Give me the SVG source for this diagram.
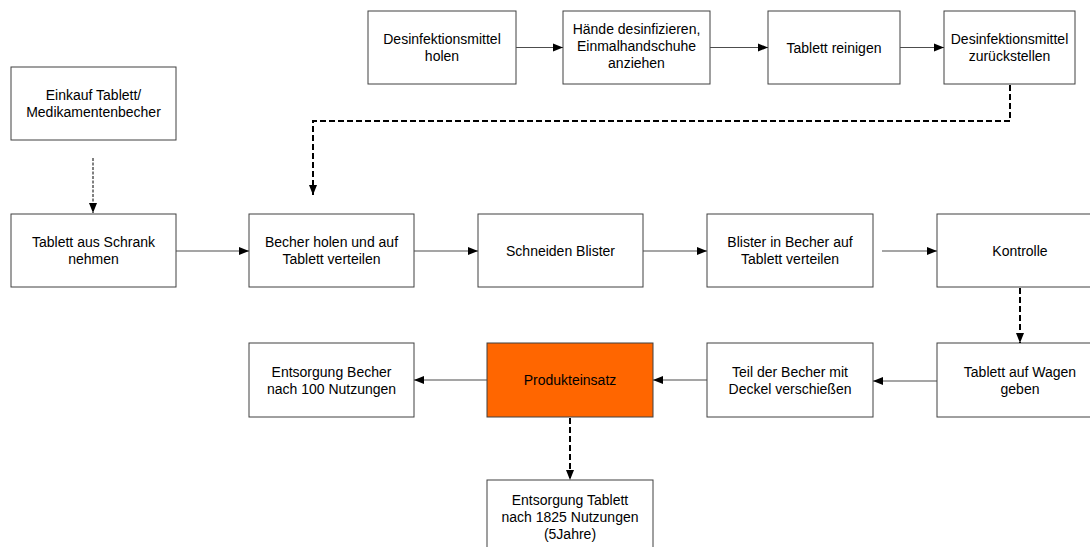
<svg xmlns="http://www.w3.org/2000/svg" width="1090" height="547" viewBox="0 0 1090 547">
<style>
.box{fill:#fff;stroke:#404040;stroke-width:1}
.hl{fill:#ff6600;stroke:#404040;stroke-width:1}
.t{font-family:"Liberation Sans",Arial,sans-serif;font-size:14px;fill:#000;text-anchor:middle}
.solid{fill:none;stroke:#4d4d4d;stroke-width:1.2}
.dash{fill:none;stroke:#000;stroke-width:2;stroke-dasharray:6 3}
.dot{fill:none;stroke:#000;stroke-width:1;stroke-dasharray:3 1.5}
</style>
<defs>
<marker id="ah" markerUnits="userSpaceOnUse" markerWidth="10" markerHeight="10" viewBox="0 0 10 10" refX="10" refY="5" orient="auto">
<path d="M0,1 L10,5 L0,9 Z" fill="#000"/>
</marker>
</defs>
<rect width="1090" height="547" fill="#fff"/>
<g id="n1"><rect class="box" x="368" y="11" width="148" height="73"/><text class="t" x="442" y="44">Desinfektionsmittel</text><text class="t" x="442" y="61">holen</text></g>
<g id="n2"><rect class="box" x="563" y="11" width="147" height="73"/><text class="t" x="636.5" y="34">Hände desinfizieren,</text><text class="t" x="636.5" y="51">Einmalhandschuhe</text><text class="t" x="636.5" y="68">anziehen</text></g>
<g id="n3"><rect class="box" x="768" y="11" width="132" height="73"/><text class="t" x="834" y="52.5">Tablett reinigen</text></g>
<g id="n4"><rect class="box" x="944" y="11" width="131" height="73"/><text class="t" x="1009.5" y="44">Desinfektionsmittel</text><text class="t" x="1009.5" y="61">zurückstellen</text></g>
<g id="n5"><rect class="box" x="11" y="67" width="165" height="73"/><text class="t" x="93.5" y="100">Einkauf Tablett/</text><text class="t" x="93.5" y="117">Medikamentenbecher</text></g>
<g id="n6"><rect class="box" x="11" y="214" width="165" height="73"/><text class="t" x="93.5" y="247">Tablett aus Schrank</text><text class="t" x="93.5" y="264">nehmen</text></g>
<g id="n7"><rect class="box" x="249" y="214" width="165" height="73"/><text class="t" x="331.5" y="247">Becher holen und auf</text><text class="t" x="331.5" y="264">Tablett verteilen</text></g>
<g id="n8"><rect class="box" x="478" y="214" width="165" height="73"/><text class="t" x="560.5" y="255.5">Schneiden Blister</text></g>
<g id="n9"><rect class="box" x="707" y="214" width="166" height="73"/><text class="t" x="790" y="247">Blister in Becher auf</text><text class="t" x="790" y="264">Tablett verteilen</text></g>
<g id="n10"><rect class="box" x="937" y="214" width="166" height="73"/><text class="t" x="1020" y="255.5">Kontrolle</text></g>
<g id="n11"><rect class="box" x="937" y="343" width="166" height="74"/><text class="t" x="1020" y="376.5">Tablett auf Wagen</text><text class="t" x="1020" y="393.5">geben</text></g>
<g id="n12"><rect class="box" x="707" y="343" width="166" height="74"/><text class="t" x="790" y="376.5">Teil der Becher mit</text><text class="t" x="790" y="393.5">Deckel verschießen</text></g>
<g id="n13"><rect class="hl" x="487" y="343" width="166" height="74"/><text class="t" x="570" y="385">Produkteinsatz</text></g>
<g id="n14"><rect class="box" x="249" y="343" width="165" height="74"/><text class="t" x="331.5" y="376.5">Entsorgung Becher</text><text class="t" x="331.5" y="393.5">nach 100 Nutzungen</text></g>
<g id="n15"><rect class="box" x="487" y="480" width="166" height="73"/><text class="t" x="570" y="505">Entsorgung Tablett</text><text class="t" x="570" y="522">nach 1825 Nutzungen</text><text class="t" x="570" y="539">(5Jahre)</text></g>
<g id="connectors">
<path class="solid" d="M516,47.5 H563" marker-end="url(#ah)"/>
<path class="solid" d="M710,47.5 H768" marker-end="url(#ah)"/>
<path class="solid" d="M900,47.5 H944" marker-end="url(#ah)"/>
<path class="dash" d="M1010,85 V121 H313 V195" marker-end="url(#ah)"/>
<path class="dot" d="M93,158 V213" marker-end="url(#ah)"/>
<path class="solid" d="M176,251 H249" marker-end="url(#ah)"/>
<path class="solid" d="M414,251 H478" marker-end="url(#ah)"/>
<path class="solid" d="M643,251 H707" marker-end="url(#ah)"/>
<path class="solid" d="M882,251 H937" marker-end="url(#ah)"/>
<path class="dash" d="M1020,288 V343" marker-end="url(#ah)"/>
<path class="solid" d="M937,381 H873" marker-end="url(#ah)"/>
<path class="solid" d="M707,380 H653" marker-end="url(#ah)"/>
<path class="solid" d="M487,380 H414" marker-end="url(#ah)"/>
<path class="dash" d="M570,418 V480" marker-end="url(#ah)"/>
</g>
</svg>
